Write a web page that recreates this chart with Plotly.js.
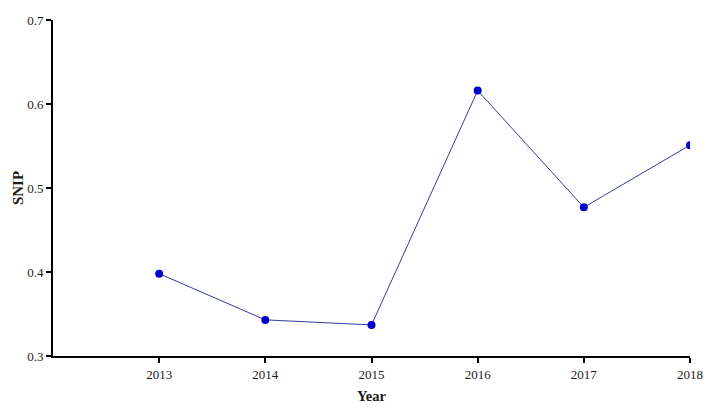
<!DOCTYPE html>
<html>
<head>
<meta charset="utf-8">
<script src="https://cdn.plot.ly/plotly-3.0.1.min.js"></script>
<style>html,body{margin:0;padding:0;background:#fff;}#chart{width:724px;height:413px;}</style>
</head>
<body>
<div id="chart"></div>
<script>
const years = [2013, 2014, 2015, 2016, 2017, 2018];
const snip = [0.398, 0.343, 0.337, 0.616, 0.477, 0.551];
const yTicks = [0.3, 0.4, 0.5, 0.6, 0.7];
const xTicks = [2013, 2014, 2015, 2016, 2017, 2018];

const trace = {
  x: years, y: snip, type: 'scatter', mode: 'lines+markers',
  line: {color: '#3a3aa0', width: 1},
  marker: {color: '#0000cc', size: 8}
};
const layout = {
  width: 724, height: 413,
  margin: {l: 53, r: 34, t: 20, b: 57},
  paper_bgcolor: '#fff', plot_bgcolor: '#fff',
  showlegend: false,
  font: {family: 'Liberation Serif, Times New Roman, serif', size: 13, color: '#1a1a1a'},
  xaxis: {
    range: [2012, 2018], tickvals: xTicks, ticktext: xTicks.map(String),
    showgrid: false, zeroline: false, showline: true, linecolor: '#000', linewidth: 2,
    ticks: 'outside', ticklen: 5, tickwidth: 2, tickcolor: '#000',
    title: {text: '<b>Year</b>', font: {size: 14.5, color: '#1a1a1a'}, standoff: 10}
  },
  yaxis: {
    range: [0.3, 0.7], tickvals: yTicks, ticktext: yTicks.map(v => v.toFixed(1)),
    showgrid: false, zeroline: false, showline: true, linecolor: '#000', linewidth: 2,
    ticks: 'outside', ticklen: 5, tickwidth: 2, tickcolor: '#000',
    title: {text: '<b>SNIP</b>', font: {size: 15, color: '#1a1a1a'}, standoff: 0}
  }
};
Plotly.newPlot('chart', [trace], layout, {displayModeBar: false, staticPlot: true});
</script>
</body>
</html>
